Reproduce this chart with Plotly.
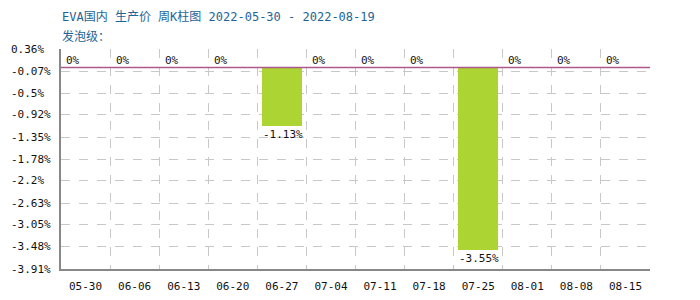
import plotly.graph_objects as go

categories = ["05-30", "06-06", "06-13", "06-20", "06-27", "07-04", "07-11", "07-18", "07-25", "08-01", "08-08", "08-15"]
values = [0, 0, 0, 0, -1.13, 0, 0, 0, -3.55, 0, 0, 0]
ytick_vals = [0.36, -0.07, -0.5, -0.92, -1.35, -1.78, -2.2, -2.63, -3.05, -3.48, -3.91]
ytick_text = ["0.36%", "-0.07%", "-0.5%", "-0.92%", "-1.35%", "-1.78%", "-2.2%", "-2.63%", "-3.05%", "-3.48%", "-3.91%"]
title1 = "EVA国内 生产价 周K柱图 2022-05-30 - 2022-08-19"
title2 = "发泡级："

FONT = "DejaVu Sans Mono, Noto Sans CJK SC, monospace"
BAR_W = 0.82
idx = list(range(len(categories)))

fig = go.Figure()
fig.add_trace(go.Bar(x=idx, y=values, width=BAR_W, marker=dict(color="#acd432", line=dict(width=0)),
                     hoverinfo="skip"))

anns = []
for i, v in zip(idx, values):
    anns.append(dict(x=i - BAR_W / 2, y=v, xref="x", yref="y", text=f"{v:g}%",
                     xanchor="left", yanchor="bottom" if v >= 0 else "top",
                     showarrow=False, font=dict(family=FONT, size=11, color="#111"),
                     xshift=-1, yshift=-1 if v >= 0 else 0))
for tv, tt in zip(ytick_vals, ytick_text):
    anns.append(dict(x=0, y=tv, xref="paper", yref="y", text=tt, showarrow=False,
                     xanchor="left", yanchor="middle", font=dict(family=FONT, size=11, color="#111"),
                     xshift=-52))
anns.append(dict(x=0, y=1, xref="paper", yref="paper", text=title1, showarrow=False,
                 xanchor="left", yanchor="bottom", yshift=23, xshift=-1,
                 font=dict(family=FONT, size=12, color="#1e6496")))
anns.append(dict(x=0, y=1, xref="paper", yref="paper", text=title2, showarrow=False,
                 xanchor="left", yanchor="bottom", yshift=3, xshift=-1,
                 font=dict(family=FONT, size=12, color="#1e6496")))

fig.update_layout(
    width=700, height=300,
    margin=dict(l=61, r=50, t=49, b=31),
    paper_bgcolor="white", plot_bgcolor="white",
    showlegend=False, bargap=0,
    annotations=anns,
    xaxis=dict(range=[-0.5, len(categories) - 0.5], tickvals=idx, ticktext=categories,
               automargin=False,
               showgrid=False, zeroline=False, showline=True, linecolor="#888", linewidth=1.5,
               mirror=False, ticks="", tickfont=dict(family=FONT, size=11, color="#111"),
               ticklabelstandoff=6,
               minor=dict(tick0=-0.5, dtick=1, showgrid=True, gridcolor="#c8c8c8", griddash="dash", gridwidth=1)),
    yaxis=dict(range=[-3.91, 0.36], tickvals=ytick_vals, showticklabels=False, automargin=False,
               showgrid=True, gridcolor="#c8c8c8", griddash="dash", gridwidth=1,
               zeroline=False, showline=True, linecolor="#888", linewidth=1.5, ticks=""),
)
fig.add_shape(type="line", xref="paper", yref="y", x0=0, x1=1, y0=0, y1=0,
              line=dict(color="#b0588a", width=1.5))

fig.write_html("out.html")
